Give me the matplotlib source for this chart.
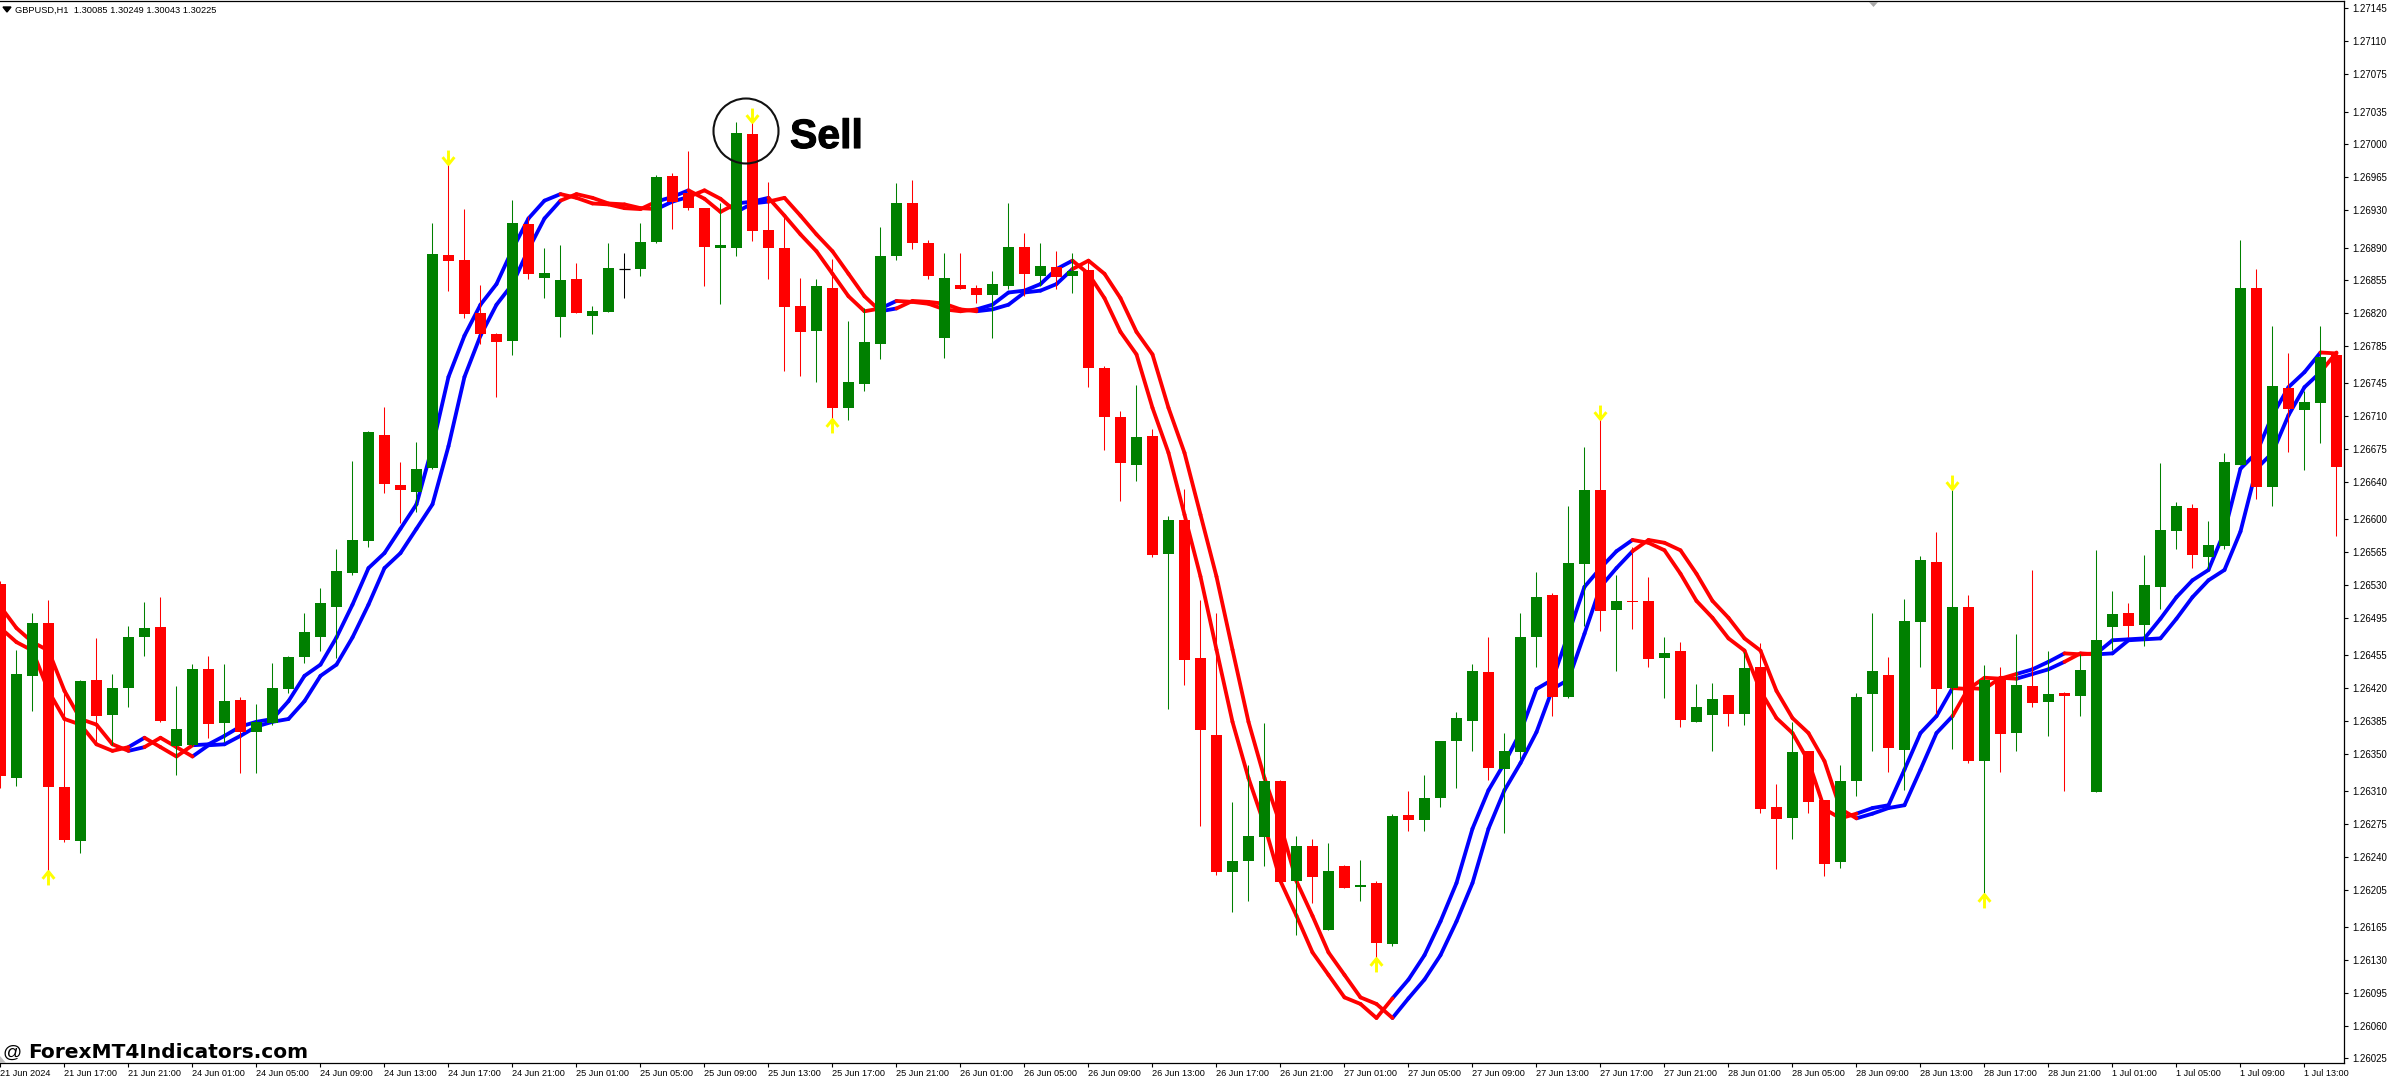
import matplotlib
matplotlib.use('Agg')
import matplotlib.pyplot as plt
import matplotlib.patheffects as pe
from matplotlib.path import Path
from matplotlib.patches import Ellipse, Polygon

W, H = 2388, 1079

# candles, one hour each
opens = [
    1.26531, 1.26324, 1.26433, 1.26489, 1.26314, 1.26257, 1.26429, 1.26391, 1.26420, 1.26474,
    1.26485, 1.26358, 1.26359, 1.26440, 1.26383, 1.26407, 1.26373, 1.26383, 1.26419, 1.26453,
    1.26474, 1.26507, 1.26543, 1.26577, 1.26690, 1.26637, 1.26629, 1.26655, 1.26882, 1.26877,
    1.26820, 1.26798, 1.26790, 1.26915, 1.26858, 1.26816, 1.26856, 1.26817, 1.26821, 1.26867,
    1.26867, 1.26896, 1.26966, 1.26948, 1.26932, 1.26890, 1.26890, 1.27011, 1.26909, 1.26890,
    1.26828, 1.26801, 1.26847, 1.26719, 1.26744, 1.26787, 1.26881, 1.26937, 1.26895, 1.26793,
    1.26850, 1.26847, 1.26839, 1.26849, 1.26891, 1.26860, 1.26869, 1.26860, 1.26866, 1.26761,
    1.26709, 1.26658, 1.26689, 1.26563, 1.26599, 1.26452, 1.26370, 1.26224, 1.26236, 1.26261,
    1.26321, 1.26214, 1.26252, 1.26162, 1.26230, 1.26208, 1.26212, 1.26147, 1.26285, 1.26279,
    1.26303, 1.26363, 1.26385, 1.26437, 1.26334, 1.26352, 1.26474, 1.26519, 1.26411, 1.26552,
    1.26631, 1.26503, 1.26513, 1.26513, 1.26452, 1.26460, 1.26384, 1.26391, 1.26413, 1.26392,
    1.26443, 1.26293, 1.26281, 1.26353, 1.26301, 1.26234, 1.26321, 1.26414, 1.26434, 1.26354,
    1.26490, 1.26554, 1.26420, 1.26506, 1.26342, 1.26430, 1.26372, 1.26422, 1.26405, 1.26415,
    1.26412, 1.26309, 1.26485, 1.26500, 1.26487, 1.26528, 1.26588, 1.26612, 1.26560, 1.26572,
    1.26658, 1.26847, 1.26634, 1.26740, 1.26717, 1.26724, 1.26775,
]
highs = [
    1.26534, 1.26461, 1.26500, 1.26514, 1.26417, 1.26429, 1.26473, 1.26435, 1.26486, 1.26512,
    1.26517, 1.26422, 1.26446, 1.26454, 1.26446, 1.26411, 1.26403, 1.26447, 1.26454, 1.26500,
    1.26527, 1.26568, 1.26662, 1.26694, 1.26720, 1.26661, 1.26683, 1.26916, 1.26981, 1.26931,
    1.26850, 1.26799, 1.26941, 1.26924, 1.26890, 1.26893, 1.26874, 1.26828, 1.26895, 1.26884,
    1.26916, 1.26967, 1.26969, 1.26993, 1.26932, 1.26937, 1.27024, 1.27025, 1.26960, 1.26923,
    1.26858, 1.26856, 1.26878, 1.26812, 1.26825, 1.26912, 1.26959, 1.26962, 1.26898, 1.26884,
    1.26884, 1.26850, 1.26865, 1.26937, 1.26905, 1.26895, 1.26886, 1.26884, 1.26875, 1.26764,
    1.26716, 1.26743, 1.26696, 1.26604, 1.26632, 1.26514, 1.26500, 1.26298, 1.26338, 1.26383,
    1.26322, 1.26262, 1.26259, 1.26255, 1.26231, 1.26237, 1.26214, 1.26286, 1.26310, 1.26327,
    1.26364, 1.26394, 1.26446, 1.26475, 1.26372, 1.26500, 1.26544, 1.26521, 1.26614, 1.26677,
    1.26710, 1.26541, 1.26570, 1.26538, 1.26474, 1.26469, 1.26424, 1.26425, 1.26413, 1.26458,
    1.26468, 1.26318, 1.26384, 1.26353, 1.26301, 1.26338, 1.26415, 1.26500, 1.26453, 1.26515,
    1.26561, 1.26586, 1.26634, 1.26519, 1.26445, 1.26442, 1.26478, 1.26546, 1.26460, 1.26416,
    1.26456, 1.26567, 1.26524, 1.26511, 1.26562, 1.26660, 1.26618, 1.26616, 1.26598, 1.26671,
    1.26898, 1.26867, 1.26806, 1.26778, 1.26737, 1.26806, 1.26775,
]
lows = [
    1.26313, 1.26316, 1.26396, 1.26225, 1.26256, 1.26244, 1.26362, 1.26359, 1.26400, 1.26454,
    1.26384, 1.26327, 1.26358, 1.26367, 1.26362, 1.26329, 1.26329, 1.26381, 1.26415, 1.26447,
    1.26460, 1.26452, 1.26541, 1.26571, 1.26628, 1.26596, 1.26608, 1.26654, 1.26844, 1.26815,
    1.26787, 1.26730, 1.26775, 1.26856, 1.26836, 1.26795, 1.26820, 1.26798, 1.26821, 1.26836,
    1.26860, 1.26895, 1.26910, 1.26930, 1.26849, 1.26830, 1.26881, 1.26897, 1.26856, 1.26758,
    1.26753, 1.26747, 1.26706, 1.26706, 1.26737, 1.26771, 1.26877, 1.26888, 1.26856, 1.26772,
    1.26846, 1.26831, 1.26794, 1.26846, 1.26838, 1.26849, 1.26846, 1.26841, 1.26741, 1.26674,
    1.26620, 1.26641, 1.26560, 1.26398, 1.26423, 1.26273, 1.26221, 1.26181, 1.26193, 1.26230,
    1.26213, 1.26157, 1.26191, 1.26162, 1.26207, 1.26193, 1.26131, 1.26145, 1.26268, 1.26268,
    1.26293, 1.26313, 1.26353, 1.26322, 1.26265, 1.26344, 1.26442, 1.26390, 1.26409, 1.26486,
    1.26481, 1.26438, 1.26483, 1.26442, 1.26409, 1.26378, 1.26384, 1.26353, 1.26380, 1.26381,
    1.26287, 1.26227, 1.26259, 1.26287, 1.26220, 1.26228, 1.26305, 1.26353, 1.26330, 1.26311,
    1.26442, 1.26392, 1.26355, 1.26340, 1.26201, 1.26330, 1.26353, 1.26400, 1.26369, 1.26310,
    1.26390, 1.26309, 1.26461, 1.26474, 1.26465, 1.26504, 1.26568, 1.26548, 1.26547, 1.26568,
    1.26658, 1.26622, 1.26614, 1.26672, 1.26653, 1.26681, 1.26582,
]
closes = [
    1.26326, 1.26435, 1.26489, 1.26314, 1.26258, 1.26428, 1.26390, 1.26420, 1.26475, 1.26484,
    1.26385, 1.26376, 1.26440, 1.26382, 1.26406, 1.26373, 1.26384, 1.26420, 1.26453, 1.26480,
    1.26511, 1.26545, 1.26578, 1.26693, 1.26638, 1.26631, 1.26654, 1.26883, 1.26876, 1.26819,
    1.26798, 1.26789, 1.26916, 1.26862, 1.26863, 1.26855, 1.26820, 1.26822, 1.26868, 1.26867,
    1.26896, 1.26965, 1.26939, 1.26932, 1.26891, 1.26893, 1.27012, 1.26908, 1.26890, 1.26827,
    1.26800, 1.26849, 1.26719, 1.26747, 1.26789, 1.26881, 1.26938, 1.26895, 1.26860, 1.26858,
    1.26846, 1.26839, 1.26851, 1.26891, 1.26862, 1.26870, 1.26859, 1.26865, 1.26761, 1.26709,
    1.26660, 1.26688, 1.26562, 1.26599, 1.26450, 1.26375, 1.26224, 1.26235, 1.26262, 1.26321,
    1.26213, 1.26252, 1.26218, 1.26225, 1.26207, 1.26210, 1.26148, 1.26284, 1.26279, 1.26303,
    1.26363, 1.26388, 1.26438, 1.26335, 1.26353, 1.26474, 1.26517, 1.26410, 1.26553, 1.26631,
    1.26502, 1.26513, 1.26512, 1.26451, 1.26457, 1.26386, 1.26400, 1.26408, 1.26392, 1.26441,
    1.26291, 1.26280, 1.26352, 1.26298, 1.26232, 1.26321, 1.26411, 1.26438, 1.26356, 1.26492,
    1.26557, 1.26419, 1.26507, 1.26342, 1.26429, 1.26371, 1.26423, 1.26404, 1.26414, 1.26412,
    1.26439, 1.26471, 1.26499, 1.26486, 1.26530, 1.26589, 1.26614, 1.26562, 1.26573, 1.26661,
    1.26847, 1.26635, 1.26742, 1.26718, 1.26725, 1.26773, 1.26656,
]

# the two indicator lines, the second one trails the first
fast_line = [
    1.26484, 1.26469, 1.26460, 1.26417, 1.26387, 1.26381, 1.26360, 1.26353, 1.26357, 1.26367,
    1.26357, 1.26347, 1.26359, 1.26360, 1.26369, 1.26379, 1.26384, 1.26387, 1.26406, 1.26433,
    1.26445, 1.26474, 1.26509, 1.26548, 1.26564, 1.26590, 1.26616, 1.26678, 1.26752, 1.26796,
    1.26829, 1.26851, 1.26888, 1.26921, 1.26940, 1.26947, 1.26943, 1.26937, 1.26936, 1.26932,
    1.26931, 1.26939, 1.26944, 1.26951, 1.26942, 1.26928, 1.26937, 1.26939, 1.26943, 1.26924,
    1.26904, 1.26886, 1.26862, 1.26838, 1.26822, 1.26825, 1.26833, 1.26832, 1.26830, 1.26824,
    1.26822, 1.26824, 1.26829, 1.26842, 1.26844, 1.26851, 1.26867, 1.26876, 1.26862, 1.26836,
    1.26800, 1.26776, 1.26719, 1.26671, 1.26605, 1.26539, 1.26461, 1.26384, 1.26324, 1.26274,
    1.26214, 1.26177, 1.26138, 1.26114, 1.26090, 1.26083, 1.26068, 1.26089, 1.26109, 1.26135,
    1.26171, 1.26212, 1.26270, 1.26311, 1.26340, 1.26373, 1.26419, 1.26429, 1.26478, 1.26528,
    1.26548, 1.26566, 1.26578, 1.26575, 1.26567, 1.26542, 1.26513, 1.26495, 1.26473, 1.26460,
    1.26417, 1.26388, 1.26372, 1.26342, 1.26291, 1.26281, 1.26286, 1.26292, 1.26295, 1.26333,
    1.26372, 1.26390, 1.26420, 1.26419, 1.26431, 1.26430, 1.26435, 1.26440, 1.26448, 1.26457,
    1.26456, 1.26457, 1.26471, 1.26472, 1.26473, 1.26494, 1.26517, 1.26535, 1.26546, 1.26587,
    1.26654, 1.26671, 1.26711, 1.26741, 1.26757, 1.26778, 1.26777,
]
slow_line = [
    1.26507, 1.26484, 1.26469, 1.26460, 1.26417, 1.26387, 1.26381, 1.26360, 1.26353, 1.26357,
    1.26367, 1.26357, 1.26347, 1.26359, 1.26360, 1.26369, 1.26379, 1.26384, 1.26387, 1.26406,
    1.26433, 1.26445, 1.26474, 1.26509, 1.26548, 1.26564, 1.26590, 1.26616, 1.26678, 1.26752,
    1.26796, 1.26829, 1.26851, 1.26888, 1.26921, 1.26940, 1.26947, 1.26943, 1.26937, 1.26936,
    1.26932, 1.26931, 1.26939, 1.26944, 1.26951, 1.26942, 1.26928, 1.26937, 1.26939, 1.26943,
    1.26924, 1.26904, 1.26886, 1.26862, 1.26838, 1.26822, 1.26825, 1.26833, 1.26832, 1.26830,
    1.26824, 1.26822, 1.26824, 1.26829, 1.26842, 1.26844, 1.26851, 1.26867, 1.26876, 1.26862,
    1.26836, 1.26800, 1.26776, 1.26719, 1.26671, 1.26605, 1.26539, 1.26461, 1.26384, 1.26324,
    1.26274, 1.26214, 1.26177, 1.26138, 1.26114, 1.26090, 1.26083, 1.26068, 1.26089, 1.26109,
    1.26135, 1.26171, 1.26212, 1.26270, 1.26311, 1.26340, 1.26373, 1.26419, 1.26429, 1.26478,
    1.26528, 1.26548, 1.26566, 1.26578, 1.26575, 1.26567, 1.26542, 1.26513, 1.26495, 1.26473,
    1.26460, 1.26417, 1.26388, 1.26372, 1.26342, 1.26291, 1.26281, 1.26286, 1.26292, 1.26295,
    1.26333, 1.26372, 1.26390, 1.26420, 1.26419, 1.26431, 1.26430, 1.26435, 1.26440, 1.26448,
    1.26457, 1.26456, 1.26457, 1.26471, 1.26472, 1.26473, 1.26494, 1.26517, 1.26535, 1.26546,
    1.26587, 1.26654, 1.26671, 1.26711, 1.26741, 1.26757, 1.26778,
]

# yellow signal arrows
sell_bars = [28, 47, 100, 122]
sell_prices = [1.26987, 1.27031, 1.26715, 1.26640]
buy_bars = [3, 52, 86, 124]
buy_prices = [1.26217, 1.26700, 1.26125, 1.26193]

price_ticks = [
    '1.27145', '1.27110', '1.27075', '1.27035', '1.27000', '1.26965', '1.26930', '1.26890',
    '1.26855', '1.26820', '1.26785', '1.26745', '1.26710', '1.26675', '1.26640', '1.26600',
    '1.26565', '1.26530', '1.26495', '1.26455', '1.26420', '1.26385', '1.26350', '1.26310',
    '1.26275', '1.26240', '1.26205', '1.26165', '1.26130', '1.26095', '1.26060', '1.26025',
]
time_ticks = [
    '21 Jun 2024', '21 Jun 17:00', '21 Jun 21:00',
    '24 Jun 01:00', '24 Jun 05:00', '24 Jun 09:00', '24 Jun 13:00', '24 Jun 17:00', '24 Jun 21:00',
    '25 Jun 01:00', '25 Jun 05:00', '25 Jun 09:00', '25 Jun 13:00', '25 Jun 17:00', '25 Jun 21:00',
    '26 Jun 01:00', '26 Jun 05:00', '26 Jun 09:00', '26 Jun 13:00', '26 Jun 17:00', '26 Jun 21:00',
    '27 Jun 01:00', '27 Jun 05:00', '27 Jun 09:00', '27 Jun 13:00', '27 Jun 17:00', '27 Jun 21:00',
    '28 Jun 01:00', '28 Jun 05:00', '28 Jun 09:00', '28 Jun 13:00', '28 Jun 17:00', '28 Jun 21:00',
    '1 Jul 01:00', '1 Jul 05:00', '1 Jul 09:00', '1 Jul 13:00',
]

GREEN, RED, BLUE, YELLOW = '#008000', '#ff0000', '#0000ff', '#ffff00'
TICK_FONT = ['Liberation Sans', 'DejaVu Sans']

fig = plt.figure(figsize=(W / 100, H / 100), dpi=100)
# plot area in image pixels: x 0-2344, y 1-1063
ax = fig.add_axes([0, 1 - 1063 / H, 2344 / W, 1062 / H])
ax.set_xlim(-0.03, 146.47)
ax.set_ylim(1.26020, 1.27153)

bars = list(range(len(opens)))

# lines first, blue under red; any segment touching a down bar is red
for colour, want_red in ((BLUE, False), (RED, True)):
    for i in bars[:-1]:
        is_red = fast_line[i] < slow_line[i] or fast_line[i + 1] < slow_line[i + 1]
        if is_red != want_red:
            continue
        for line in (fast_line, slow_line):
            ax.plot([i, i + 1], [line[i], line[i + 1]], color=colour, lw=2.75,
                    solid_capstyle='round', zorder=2 if not want_red else 2.5)

# candles on top of the lines
for i in bars:
    o, h, l, c = opens[i], highs[i], lows[i], closes[i]
    colour = GREEN if c > o else RED if c < o else 'black'
    ax.vlines(i, l, h, color=colour, lw=0.75, zorder=3)
    if c == o:
        ax.hlines(c, i - 0.34, i + 0.34, color=colour, lw=0.9, zorder=4)
    else:
        ax.bar(i, abs(c - o), width=0.69, bottom=min(o, c), color=colour, lw=0, zorder=4)

down_arrow = Path([(0, 1), (0, -1), (-0.85, 0.05), (0, -1), (0.85, 0.05)],
                  [Path.MOVETO, Path.LINETO, Path.MOVETO, Path.LINETO, Path.LINETO])
up_arrow = Path([(0, -1), (0, 1), (-0.85, -0.05), (0, 1), (0.85, -0.05)],
                [Path.MOVETO, Path.LINETO, Path.MOVETO, Path.LINETO, Path.LINETO])
ax.plot(sell_bars, sell_prices, ls='', marker=down_arrow, ms=10, mfc='none', mec=YELLOW, mew=2.1, zorder=5)
ax.plot(buy_bars, buy_prices, ls='', marker=up_arrow, ms=10, mfc='none', mec=YELLOW, mew=2.1, zorder=5)

# axes frame like the terminal: no left edge, ticks out
ax.spines['left'].set_visible(False)
for side in ('top', 'right', 'bottom'):
    ax.spines[side].set_linewidth(0.9)
ax.yaxis.tick_right()
ax.set_yticks([float(t) for t in price_ticks])
ax.set_yticklabels(price_ticks, family=TICK_FONT, fontsize=6.9)
ax.tick_params(axis='y', length=3, width=0.8, pad=3)
ax.set_xticks(bars[::4])
ax.set_xticklabels(time_ticks, family=TICK_FONT, fontsize=6.6, ha='left')
ax.tick_params(axis='x', length=3, width=0.8, pad=1.5)

# header and annotations, placed in image pixels
def fx(x):
    return x / W

def fy(y):
    return 1 - y / H

fig.text(fx(15), fy(10), 'GBPUSD,H1  1.30085 1.30249 1.30043 1.30225', family=TICK_FONT,
         fontsize=6.7, va='center', ha='left')
fig.add_artist(Polygon([(fx(3), fy(7)), (fx(11), fy(7)), (fx(7), fy(12))], closed=True,
                       color='black', transform=fig.transFigure))
# small grey terminal marks at the chart edges
fig.add_artist(Polygon([(fx(1869), fy(2)), (fx(1878), fy(2)), (fx(1873.5), fy(7))], closed=True,
                       color='#a8a8a8', lw=0, transform=fig.transFigure))
fig.add_artist(Polygon([(fx(0), fy(1056)), (fx(0), fy(1063)), (fx(6), fy(1063))], closed=True,
                       color='#c0c0c0', lw=0, transform=fig.transFigure))
fig.add_artist(Ellipse((fx(746), fy(131)), 65 / W, 65 / H, fill=False, ec='#111111', lw=1.5,
                       transform=fig.transFigure, zorder=6))
heavy = [pe.withStroke(linewidth=0.8, foreground='black')]
fig.text(fx(790), fy(148), 'Sell', family='Liberation Sans', fontweight='bold', fontsize=29.5,
         va='baseline', ha='left', color='black', zorder=6, path_effects=heavy)
fig.text(fx(3), fy(1058), '@', family='Liberation Sans', fontsize=13.5, va='baseline', ha='left')
fig.text(fx(28), fy(1058), 'ForexMT4Indicators.com', family='DejaVu Sans', fontweight='bold',
         fontsize=14.5, va='baseline', ha='left', color='black')

fig.savefig('out.png', dpi=100)
